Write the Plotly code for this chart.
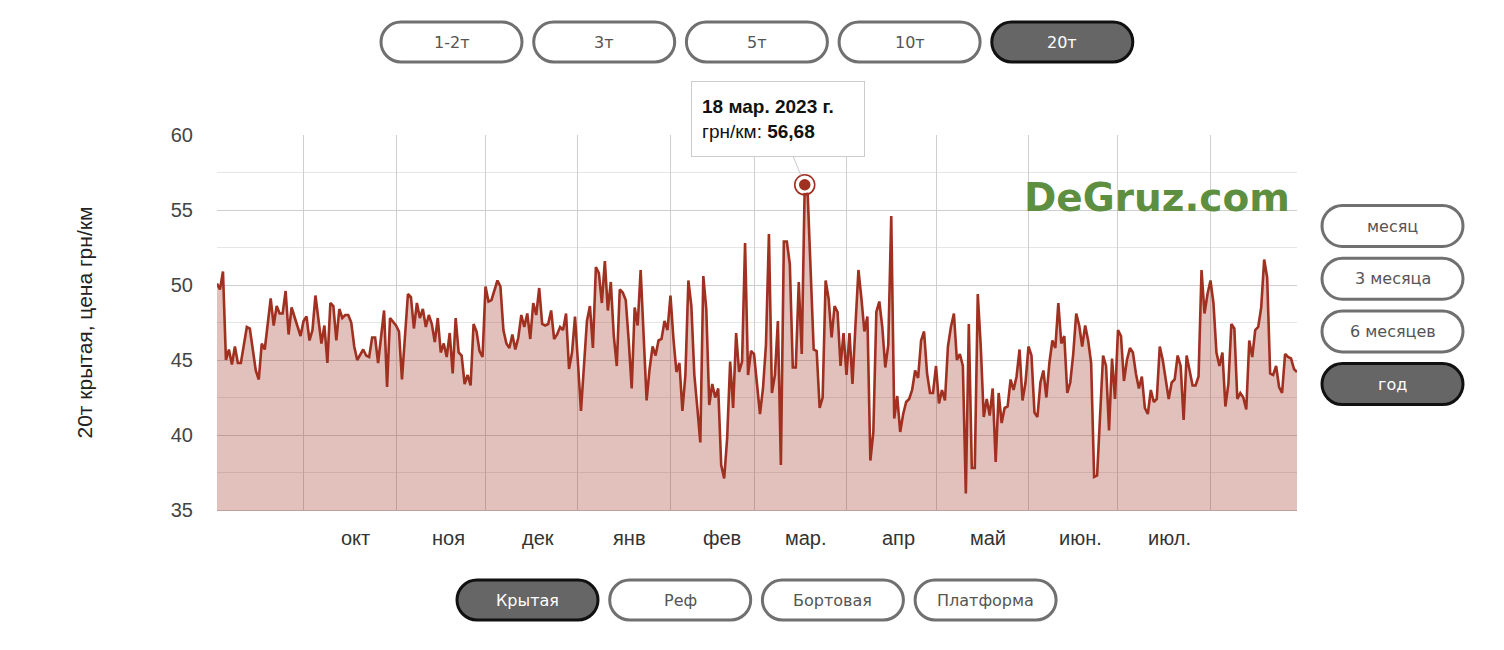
import plotly.graph_objects as go
import pandas as pd

# ---------------- data ----------------
start_date = "2022-09-02"
# day offsets from start_date of the visible line vertices
days = [
    0, 1, 2, 3, 4, 5, 6, 7, 8, 10, 11, 13, 14, 15, 16, 18, 19, 20, 21, 22, 23, 24, 25, 26, 28, 29, 30,
    31, 32, 33, 35, 36, 37, 38, 39, 40, 41, 42, 43, 44, 45, 46, 47, 49, 50, 51, 52, 53, 54, 56, 57, 58,
    60, 61, 62, 64, 65, 66, 67, 68, 69, 70, 71, 72, 73,
    74, 75, 76, 77, 78, 79, 80, 81, 82, 83, 84, 85, 86, 87, 88, 89, 90, 91, 92, 93, 94, 95, 96, 97, 98,
    99, 100, 101, 102, 103, 104, 105, 106, 107, 108, 109, 110, 111, 112, 113, 114, 115, 116, 117, 118,
    119, 120, 121, 122, 124, 125, 126, 127, 128, 129, 130, 131, 132, 133, 134, 135, 136, 137, 138, 139,
    140, 141, 142, 143, 144, 145, 146, 147,
    148, 149, 150, 151, 152, 153, 154, 155, 156, 157, 158, 159, 160, 161, 162, 163, 164, 165, 166, 167,
    168, 169, 170, 171, 172, 173, 174, 175, 176, 177, 178, 179, 180, 181, 182, 183, 184, 185, 186, 187,
    188, 189, 190, 191, 192, 193, 194, 195, 196, 197, 198, 200, 201, 202, 203, 204, 205, 206, 207, 208,
    209, 210, 211, 212, 213, 214, 215, 216, 217, 218, 219, 220,
    221, 222, 223, 224, 225, 226, 227, 228, 229, 230, 231, 232, 233, 234, 235, 236, 237, 238, 239, 240,
    241, 242, 243, 244, 245, 246, 247, 248, 249, 250, 251, 252, 253, 254, 255, 256, 257, 258, 259, 260,
    261, 262, 263, 264, 265, 266, 267, 268, 269, 270, 271, 272, 273, 274, 275, 276, 277, 278, 279, 280,
    281, 282, 283, 284, 285, 286, 287, 288, 289, 290, 291, 292, 293, 294, 295,
    297, 298, 299, 300, 301, 302, 303, 304, 305, 306, 307, 308, 309, 310, 311, 312, 313, 314, 315, 316,
    317, 318, 319, 320, 321, 322, 323, 324, 325, 326, 327, 328, 329, 330, 331, 332, 333, 334, 335, 336,
    337, 338, 339, 340, 341, 342, 343, 344, 345, 346, 347, 348, 349, 350, 351, 352, 353, 354, 355, 356,
    357, 358, 359, 360, 361, 362,
]
prices = [
    50.1, 49.7, 50.9, 45.0, 45.7, 44.7, 45.9, 44.8, 44.8, 47.2, 47.1, 44.3, 43.7, 46.1, 45.7, 49.1, 47.3,
    48.6, 48.1, 48.1, 49.6, 46.7, 48.5, 47.9, 46.6, 47.6, 47.9,
    46.3, 47.0, 49.3, 46.1, 47.3, 44.8, 48.8, 48.6, 46.3, 48.4, 47.8, 48.0, 48.0, 47.5, 45.9, 45.0, 45.7,
    45.3, 45.2, 46.5, 46.5, 44.8, 48.3, 43.2, 47.8,
    47.3, 46.9, 43.7, 49.4, 49.2, 47.1, 48.8, 47.8, 48.4, 47.2, 48.0, 47.4, 46.2,
    47.8, 45.5, 46.1, 45.2, 46.8, 44.1, 47.8, 45.5, 45.3, 43.4, 44.0, 43.3, 47.4, 46.9, 45.6, 45.2, 49.9,
    48.9, 49.0, 49.7, 50.3, 49.9, 47.0, 46.1, 45.8,
    46.7, 45.7, 46.5, 48.0, 47.2, 48.1, 46.4, 48.8, 48.0, 49.8, 47.4, 47.3, 47.4, 48.3, 46.4, 46.7, 47.2,
    47.0, 48.1, 44.4,
    45.5, 47.9, 44.8, 41.6, 47.6, 48.6, 45.8, 51.2, 50.8, 48.8, 51.6, 48.3, 50.2, 46.6, 44.6, 49.7, 49.5,
    49.0, 46.3, 43.1,
    48.5, 47.3, 51.0, 47.0, 42.3, 44.4, 45.9, 45.3,
    46.3, 46.4, 47.6, 47.0, 49.3, 46.4, 44.2, 44.8, 41.6, 44.0, 50.3, 48.6, 44.0, 41.8, 39.5, 50.6, 48.4,
    42.0, 43.4, 42.5,
    43.1, 38.0, 37.1, 39.8, 44.9, 41.8, 46.8, 44.2, 44.9, 52.8, 44.0, 45.6, 45.4, 43.4, 41.4, 43.1, 46.0,
    53.4, 42.8, 44.0,
    47.6, 38.0, 52.9, 52.9, 51.4, 44.5, 44.5, 50.2, 45.4, 56.68, 56.0, 45.7, 45.6, 41.8, 42.5, 50.3, 49.1,
    46.5, 48.6, 48.2,
    44.6, 46.8, 44.0, 46.8, 43.4, 47.3, 51.0, 49.1, 46.9, 47.9, 38.3, 40.2,
    48.2, 48.9, 47.2, 44.5, 46.0, 54.6, 41.1, 42.6, 40.2, 41.4, 42.2, 42.4, 43.0, 44.3, 43.8, 46.3, 46.9,
    44.1, 42.8, 42.8,
    44.6, 42.1, 43.0, 42.3, 45.9, 47.2, 48.1, 45.0, 45.4, 44.6, 36.1, 47.4, 37.8, 37.8, 49.4, 45.9, 41.2,
    42.4, 41.3, 43.1,
    38.2, 42.8, 40.8, 41.8, 41.9, 43.7, 43.0, 43.9, 45.7, 42.3, 43.5, 45.9, 45.3, 41.5, 41.2, 43.5, 44.3,
    42.5, 44.8, 46.3,
    45.8, 48.8, 46.1, 46.6, 42.8, 43.5, 45.4, 48.1, 47.3, 45.9, 47.3, 46.3, 44.8, 37.2, 37.3,
    45.3, 44.6, 40.3, 45.1, 42.4, 47.0, 46.6, 43.6, 45.0, 45.8, 45.5, 44.1, 43.1, 43.9, 41.8, 41.4, 43.0,
    42.2, 42.4, 45.9,
    45.0, 43.7, 42.4, 43.5, 43.7, 45.3, 44.6, 41.0, 45.3, 44.3, 43.3, 43.3, 43.9, 51.0, 48.1, 49.4, 50.3,
    48.8, 45.5, 44.6,
    45.5, 41.9, 43.4, 47.4, 47.1, 42.4, 42.8, 42.5, 41.7, 46.3, 45.2, 47.0, 47.2, 48.5, 51.7, 50.5, 44.1,
    44.0, 44.6, 43.2,
    42.8, 45.4, 45.2, 45.1, 44.4, 44.2,
]

month_starts = ["2022-10-01", "2022-11-01", "2022-12-01", "2023-01-01", "2023-02-01", "2023-03-01",
                "2023-04-01", "2023-05-01", "2023-06-01", "2023-07-01", "2023-08-01"]
month_labels = ["окт", "ноя", "дек", "янв", "фев", "мар.", "апр", "май", "июн.", "июл."]
y_ticks = [35, 40, 45, 50, 55, 60]

peak_date = "2023-03-18"
peak_value = 56.68
tooltip_title = "18 мар. 2023 г."
tooltip_unit = "грн/км"
y_title = "20т крытая, цена грн/км"
watermark = "DeGruz.com"

tonnage_buttons = ["1-2т", "3т", "5т", "10т", "20т"]
tonnage_active = "20т"
type_buttons = ["Крытая", "Реф", "Бортовая", "Платформа"]
type_active = "Крытая"
period_buttons = ["месяц", "3 месяца", "6 месяцев", "год"]
period_active = "год"

# ---------------- layout constants ----------------
W, H = 1504, 650
PL, PR, PT, PB = 217, 1297, 135, 510
LINE = "#a03020"
FONT = "Liberation Sans, Arial, sans-serif"
BTN_FONT = "DejaVu Sans, Verdana, sans-serif"


def px_x(x):
    return (x - PL) / (PR - PL)


def px_y(y):
    return (PB - y) / (PB - PT)


def pill_path(w, h):
    r = h / 2.0
    a = w / 2.0 - r
    k = 0.5523 * r
    return (f"M {-a},{-r} L {a},{-r} "
            f"C {a + k},{-r} {a + r},{-k} {a + r},0 "
            f"C {a + r},{k} {a + k},{r} {a},{r} "
            f"L {-a},{r} "
            f"C {-a - k},{r} {-a - r},{k} {-a - r},0 "
            f"C {-a - r},{-k} {-a - k},{-r} {-a},{-r} Z")


dates = pd.Timestamp(start_date) + pd.to_timedelta(days, unit="D")

fig = go.Figure()
fig.add_trace(go.Scatter(
    x=dates, y=prices, mode="lines",
    line=dict(color=LINE, width=2.6),
    fill="tozeroy", fillcolor="rgba(160,48,32,0.3)",
    hoverinfo="skip", showlegend=False,
))
# highlighted point
fig.add_trace(go.Scatter(
    x=[pd.Timestamp(peak_date)], y=[peak_value], mode="markers",
    marker=dict(size=20, color="rgba(0,0,0,0)", line=dict(color=LINE, width=1.6)),
    hoverinfo="skip", showlegend=False,
))
fig.add_trace(go.Scatter(
    x=[pd.Timestamp(peak_date)], y=[peak_value], mode="markers",
    marker=dict(size=14, color=LINE, line=dict(color="white", width=2.5)),
    hoverinfo="skip", showlegend=False,
))

shapes = []
annotations = []


def add_button(label, cx, cy, w, h, active):
    shapes.append(dict(
        type="path", xref="paper", yref="paper",
        xsizemode="pixel", ysizemode="pixel",
        xanchor=px_x(cx), yanchor=px_y(cy),
        path=pill_path(w, h),
        fillcolor="#666666" if active else "white",
        line=dict(color="#111111" if active else "#707070", width=3),
        layer="above",
    ))
    annotations.append(dict(
        text=label, xref="paper", yref="paper", x=px_x(cx), y=px_y(cy),
        xanchor="center", yanchor="middle", showarrow=False,
        font=dict(family=BTN_FONT, size=16, color="white" if active else "#555555"),
    ))


for i, lab in enumerate(tonnage_buttons):
    add_button(lab, 451.5 + i * 152.7, 42, 141, 40, lab == tonnage_active)
for i, lab in enumerate(type_buttons):
    add_button(lab, 527.5 + i * 152.7, 600, 141, 40, lab == type_active)
for i, lab in enumerate(period_buttons):
    add_button(lab, 1392.5, 226 + i * 52.7, 141, 41, lab == period_active)

# month labels (centred inside each month)
for ms, lab in zip(month_starts, month_labels):
    annotations.append(dict(
        text=lab, x=ms, xref="x", y=0, yref="paper", xanchor="center", yanchor="top",
        xshift=52, yshift=-15, showarrow=False,
        font=dict(family=FONT, size=20, color="#333333"),
    ))

# y axis title
annotations.append(dict(
    text=y_title, xref="paper", yref="paper", x=px_x(84), y=0.5,
    xanchor="center", yanchor="middle", textangle=-90, showarrow=False,
    font=dict(family=FONT, size=21, color="#222222"),
))

# watermark
annotations.append(dict(
    text=f"<b>{watermark}</b>", xref="paper", yref="paper", x=px_x(1157), y=px_y(197),
    xanchor="center", yanchor="middle", showarrow=False,
    font=dict(family="DejaVu Sans, Verdana, sans-serif", size=39, color="#5e8f40"),
))

# tooltip
annotations.append(dict(
    x=pd.Timestamp(peak_date), y=peak_value, xref="x", yref="y",
    text=f"<b>{tooltip_title}</b><br>{tooltip_unit}: <b>{str(peak_value).replace('.', ',')}</b>",
    showarrow=True, arrowhead=0, arrowwidth=1, arrowcolor="#c8c8c8",
    ax=-27, ay=-66, standoff=10,
    align="left", width=152, height=54, borderpad=10,
    bgcolor="white", bordercolor="#cccccc", borderwidth=1,
    font=dict(family=FONT, size=19, color="#111111"),
))

fig.update_layout(
    width=W, height=H,
    margin=dict(l=PL, r=W - PR, t=PT, b=H - PB, pad=0),
    paper_bgcolor="white", plot_bgcolor="white",
    shapes=shapes, annotations=annotations,
    hovermode=False, showlegend=False,
    xaxis=dict(
        type="date", range=[dates[0], dates[-1]],
        tickmode="array", tickvals=month_starts, showticklabels=False,
        showgrid=True, gridcolor="#cfcfcf", gridwidth=1,
        zeroline=False, showline=True, linecolor="#bfa29e", linewidth=1.2,
        ticks="", fixedrange=True,
    ),
    yaxis=dict(
        range=[35, 60], tickmode="array", tickvals=y_ticks,
        showgrid=True, gridcolor="#cfcfcf", gridwidth=1,
        minor=dict(tickmode="linear", tick0=35, dtick=2.5, showgrid=True, gridcolor="#e6e6e6", gridwidth=1),
        zeroline=False, showline=False, ticks="", ticklabelstandoff=23,
        tickfont=dict(family=FONT, size=20, color="#444444"), fixedrange=True,
    ),
)

fig.write_html("out.html")
